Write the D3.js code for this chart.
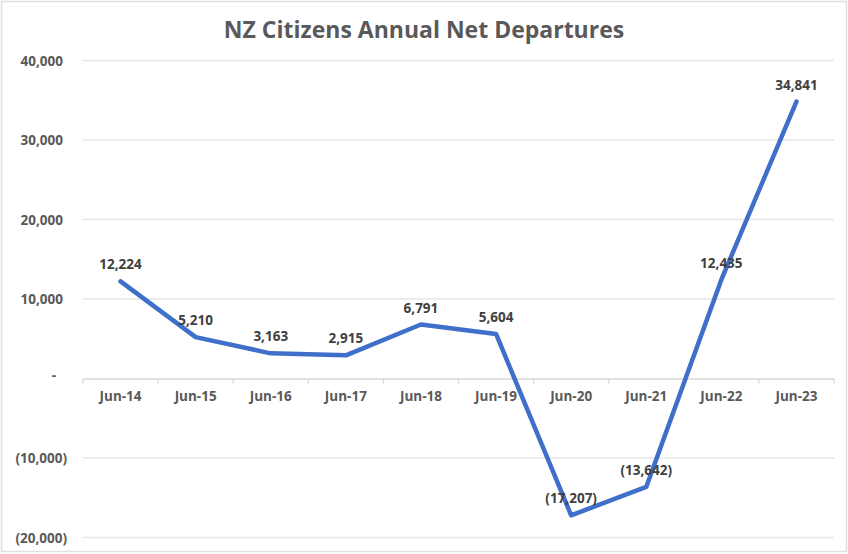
<!DOCTYPE html>
<html>
<head>
<meta charset="utf-8">
<script src="https://cdn.jsdelivr.net/npm/d3@7"></script>
<style>
  body { margin: 0; background: #fff; }
  svg { display: block; font-family: "Open Sans", "Noto Sans", sans-serif; }
</style>
</head>
<body>
<div id="chart"></div>
<script>
var categories = ['Jun-14', 'Jun-15', 'Jun-16', 'Jun-17', 'Jun-18', 'Jun-19', 'Jun-20', 'Jun-21', 'Jun-22', 'Jun-23'];
var departures = [12224, 5210, 3163, 2915, 6791, 5604, -17207, -13642, 12435, 34841];
var yTicks = [-20000, -10000, 0, 10000, 20000, 30000, 40000];

var width = 848, height = 554;
var plot = { left: 83, right: 834, top: 60.5, bottom: 537.5 };
var fontSize = 13.5;

// excel style accounting format
function acct(v) {
    if (v === 0) return '-';
    var s = d3.format(',')(Math.abs(v));
    return v < 0 ? '(' + s + ')' : s;
}

var svg = d3.select('#chart').append('svg')
    .attr('width', width)
    .attr('height', height);

svg.append('rect')
    .attr('x', 1.5).attr('y', 1.5)
    .attr('width', 845).attr('height', 550)
    .attr('fill', '#fff')
    .attr('stroke', '#e0e0e0')
    .attr('stroke-width', 1.5);

var x = d3.scaleBand()
    .domain(categories)
    .range([plot.left, plot.right]);

var y = d3.scaleLinear()
    .domain([-20000, 40000])
    .range([plot.bottom, plot.top]);

// gridlines
svg.append('g').attr('class', 'grid')
    .selectAll('line')
    .data(yTicks.filter(function(d) { return d !== 0; }))
    .enter().append('line')
    .attr('x1', plot.left).attr('x2', plot.right)
    .attr('y1', function(d) { return y(d); })
    .attr('y2', function(d) { return y(d); })
    .attr('stroke', '#e6e6e6')
    .attr('stroke-width', 1.3);

// y labels
svg.append('g').attr('class', 'y-labels')
    .selectAll('text')
    .data(yTicks)
    .enter().append('text')
    .attr('x', function(d) { return d < 0 ? 67 : (d === 0 ? 56 : 63); })
    .attr('y', function(d) { return y(d) + (d === 0 ? 1 : 5); })
    .attr('text-anchor', 'end')
    .attr('font-size', fontSize)
    .attr('font-weight', 'bold')
    .attr('fill', '#595959')
    .text(acct);

// category axis on zero line
var xAxis = svg.append('g')
    .attr('transform', 'translate(0,' + y(0) + ')')
    .call(d3.axisBottom(x).tickSize(0).tickPadding(13));
xAxis.select('.domain').attr('stroke', '#d9d9d9').attr('stroke-width', 1.3);
xAxis.selectAll('.tick text')
    .attr('font-family', '"Open Sans", "Noto Sans", sans-serif')
    .attr('font-size', fontSize)
    .attr('font-weight', 'bold')
    .attr('fill', '#595959');

var bounds = categories.map(function(c) { return x(c); }).concat([plot.right]);
xAxis.selectAll('line.sep')
    .data(bounds)
    .enter().append('line')
    .attr('class', 'sep')
    .attr('x1', function(d) { return d; })
    .attr('x2', function(d) { return d; })
    .attr('y1', 0).attr('y2', 5)
    .attr('stroke', '#d9d9d9')
    .attr('stroke-width', 1.3);

var cx = function(i) { return x(categories[i]) + x.bandwidth() / 2; };

var line = d3.line()
    .x(function(d, i) { return cx(i); })
    .y(function(d) { return y(d); });

svg.append('path')
    .datum(departures)
    .attr('d', line)
    .attr('fill', 'none')
    .attr('stroke', '#3f6fca')
    .attr('stroke-width', 4.5)
    .attr('stroke-linejoin', 'round')
    .attr('stroke-linecap', 'round');

svg.append('g').attr('class', 'labels')
    .selectAll('text')
    .data(departures)
    .enter().append('text')
    .attr('x', function(d, i) { return cx(i); })
    .attr('y', function(d) { return y(d) - 12; })
    .attr('text-anchor', 'middle')
    .attr('font-size', fontSize)
    .attr('font-weight', 'bold')
    .attr('fill', '#404040')
    .text(acct);

svg.append('text')
    .attr('x', 424)
    .attr('y', 38)
    .attr('text-anchor', 'middle')
    .attr('font-size', 23)
    .attr('font-weight', 'bold')
    .attr('fill', '#595959')
    .text('NZ Citizens Annual Net Departures');
</script>
</body>
</html>
